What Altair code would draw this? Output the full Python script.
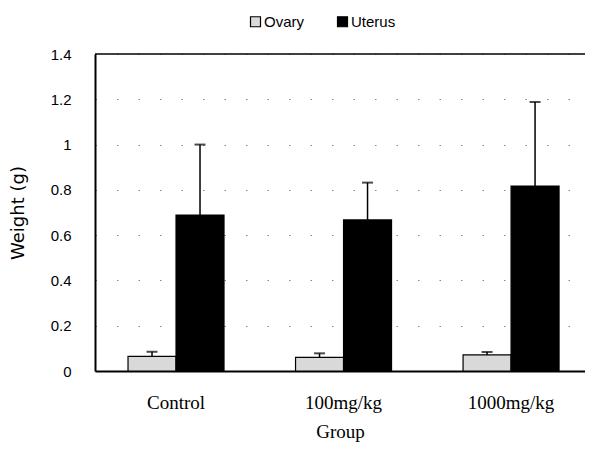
import altair as alt
import pandas as pd

groups = ["Control", "100mg/kg", "1000mg/kg"]
series = ["Ovary", "Uterus"]
ovary_mean = [0.065, 0.060, 0.071]
ovary_err = [0.020, 0.018, 0.013]
uterus_mean = [0.689, 0.667, 0.817]
uterus_err = [0.311, 0.165, 0.371]
y_ticks = [0, 0.2, 0.4, 0.6, 0.8, 1.0, 1.2, 1.4]
colors = ["#d9d9d9", "#000000"]

rows = []
for i, g in enumerate(groups):
    rows.append({"group": g, "series": "Ovary", "mean": ovary_mean[i],
                 "upper": ovary_mean[i] + ovary_err[i]})
    rows.append({"group": g, "series": "Uterus", "mean": uterus_mean[i],
                 "upper": uterus_mean[i] + uterus_err[i]})
df = pd.DataFrame(rows)

W, H = 490, 317

x_enc = alt.X(
    "group:N", sort=groups,
    scale=alt.Scale(paddingInner=0.427, paddingOuter=0.176, align=0.56),
    axis=alt.Axis(
        title="Group", labelAngle=0, ticks=False, domainColor="black",
        domainWidth=2, labelPadding=22, labelFont="Liberation Serif",
        labelFontSize=19, labelColor="black", titleFont="Liberation Serif",
        titleFontSize=19, titleFontWeight="normal", titleColor="black",
        titlePadding=10,
    ),
)
xo_enc = alt.XOffset("series:N", sort=series,
                     scale=alt.Scale(paddingInner=0, paddingOuter=0))
y_enc = alt.Y(
    "mean:Q",
    scale=alt.Scale(domain=[0, 1.4], nice=False),
    axis=alt.Axis(
        values=y_ticks, format="~g", title="Weight (g)", ticks=False,
        labelPadding=24, labelFont="Liberation Sans", labelFontSize=15,
        labelColor="black", domainColor="black", domainWidth=2,
        grid=True, gridDash=[1.5, 20], gridColor="#888888", gridWidth=1,
        titleFont="DejaVu Sans", titleFontSize=18, titleFontWeight="normal",
        titleColor="black", titleX=-77, titleY=H / 2, titleBaseline="middle",
        titleAlign="center",
    ),
)

base = alt.Chart(df)

bars = base.mark_bar(stroke="black", strokeWidth=1.2).encode(
    x=x_enc, xOffset=xo_enc, y=y_enc,
    color=alt.Color(
        "series:N", sort=series,
        scale=alt.Scale(domain=series, range=colors),
        legend=alt.Legend(
            title=None, orient="none", legendX=153, legendY=-40,
            direction="horizontal", symbolType="square", symbolSize=100,
            symbolStrokeColor="black", symbolStrokeWidth=1.2,
            labelFont="Liberation Sans", labelFontSize=15, labelColor="black",
            columnPadding=30, labelOffset=1,
        ),
    ),
)

rules = base.mark_rule(color="black", strokeWidth=1.5).encode(
    x=alt.X("group:N", sort=groups), xOffset=alt.XOffset("series:N", sort=series),
    y="mean:Q", y2="upper:Q",
)

caps = base.mark_tick(color="black", size=11, thickness=2).encode(
    x=alt.X("group:N", sort=groups), xOffset=alt.XOffset("series:N", sort=series),
    y="upper:Q",
)

top = alt.Chart(pd.DataFrame({"a": [0]})).mark_rule(
    color="black", strokeWidth=1.5
).encode(x=alt.value(0), x2=alt.value(W), y=alt.value(0))

chart = alt.layer(bars, rules, caps, top).properties(
    width=W, height=H,
    autosize=alt.AutoSizeParams(type="none"),
    padding={"left": 87, "top": 46, "right": 0, "bottom": 72},
).configure_view(stroke=None)

chart.save("out.html", embed_options={"renderer": "svg", "actions": False})
